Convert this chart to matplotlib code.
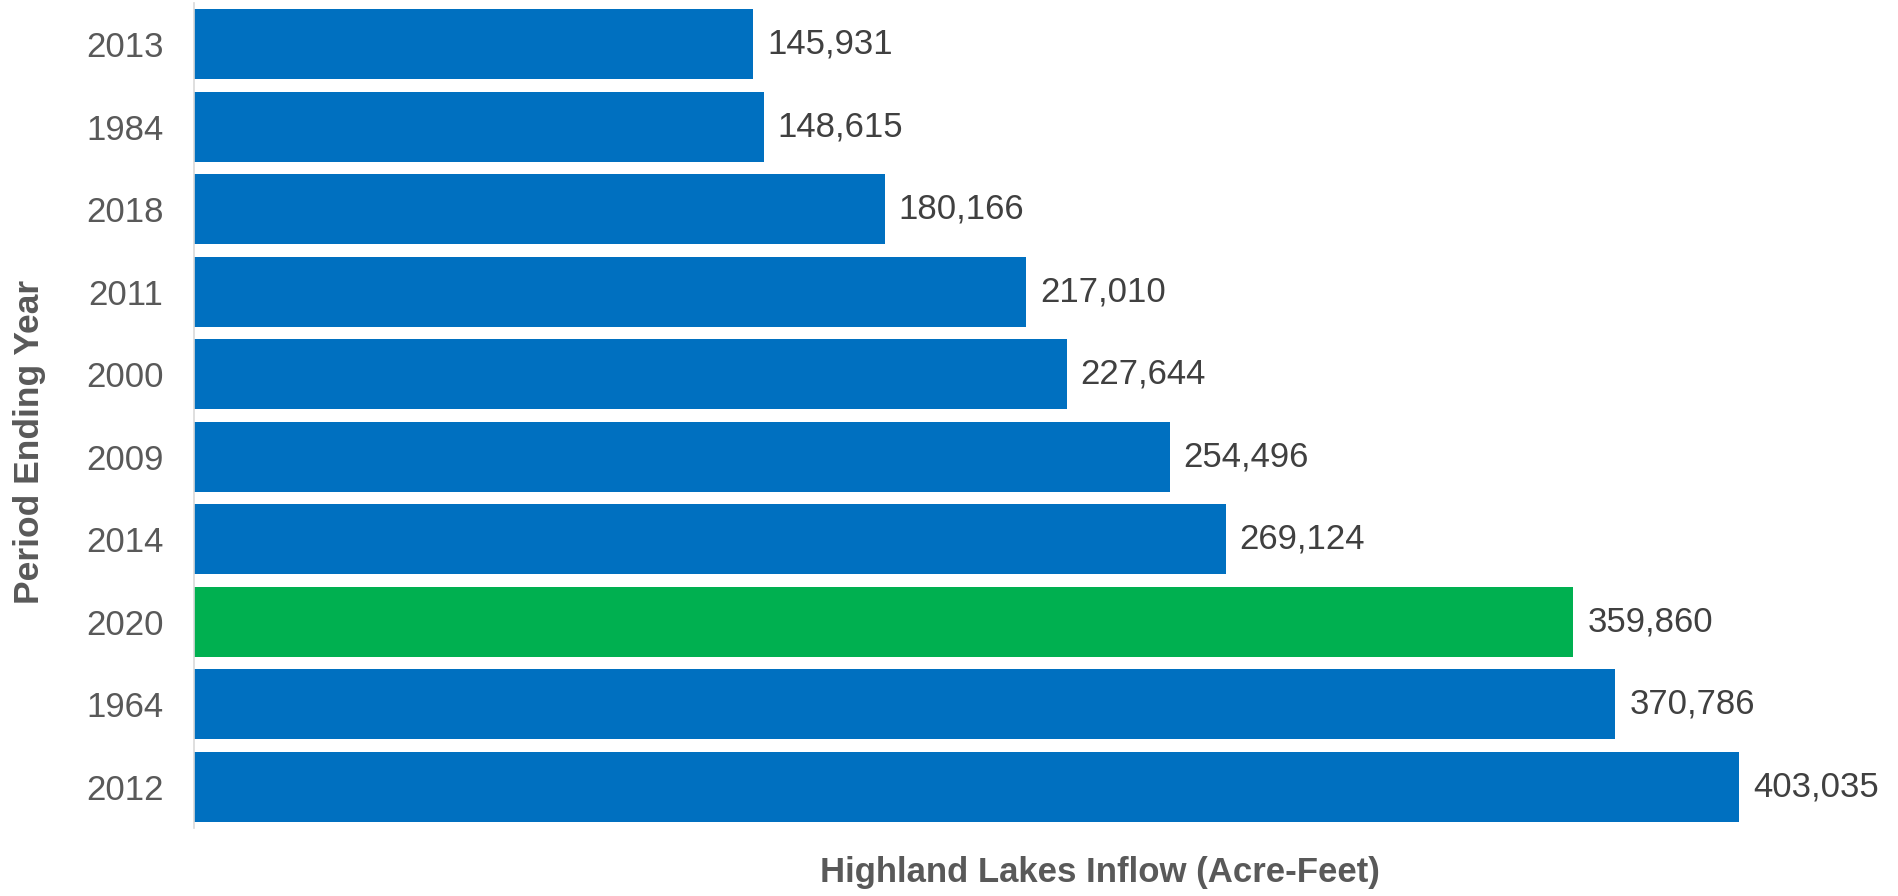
import matplotlib.pyplot as plt

plt.rcParams['font.family'] = ['Liberation Sans', 'DejaVu Sans']

years = ['2013', '1984', '2018', '2011', '2000', '2009', '2014', '2020', '1964', '2012']
inflow = [145931, 148615, 180166, 217010, 227644, 254496, 269124, 359860, 370786, 403035]
colors = ['#0070C0'] * len(years)
colors[years.index('2020')] = '#00B050'

fig = plt.figure(figsize=(18.98, 8.96), dpi=100)
ax = fig.add_axes([194 / 1898, (896 - 828) / 896, (1890 - 194) / 1898, (828 - 3) / 896])

pos = range(len(years))
ax.barh(pos, inflow, height=0.85, color=colors)
ax.set_ylim(len(years) - 0.5, -0.5)
ax.set_xlim(0, 442430)

ax.set_yticks(list(pos))
ax.set_yticklabels(years, fontsize=25, color='#595959')
ax.tick_params(axis='y', length=0, pad=22)
ax.set_xticks([])

for spine in ['top', 'right', 'bottom']:
    ax.spines[spine].set_visible(False)
ax.spines['left'].set_color('#D9D9D9')
ax.spines['left'].set_linewidth(1.2)

for i, v in enumerate(inflow):
    ax.annotate(f'{v:,}', (v, i), xytext=(10, 0), textcoords='offset points',
                va='center', ha='left', fontsize=25, color='#404040')

fig.text(1100 / 1898, 1 - 872 / 896, 'Highland Lakes Inflow (Acre-Feet)',
         ha='center', va='center', fontsize=25, fontweight='bold', color='#595959')
fig.text(30 / 1898, 1 - 442 / 896, 'Period Ending Year', rotation=90,
         ha='center', va='center', fontsize=25.5, fontweight='bold', color='#595959')

fig.savefig('out.png', dpi=100)
